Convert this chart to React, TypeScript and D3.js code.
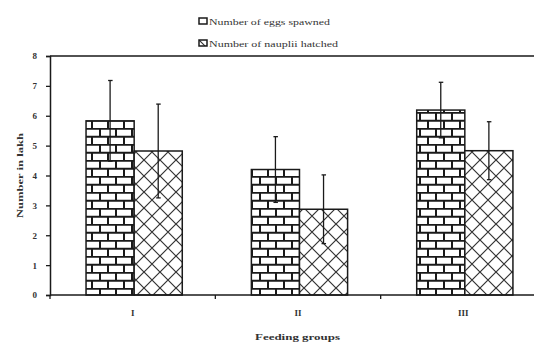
import React, { useRef, useEffect } from 'react';
import * as d3 from 'd3';

// data
const groups = ['I', 'II', 'III'];
const seriesNames = ['Number of eggs spawned', 'Number of nauplii hatched'];
const eggsSpawned = [5.83, 4.2, 6.19];
const eggsErr = [1.35, 1.1, 0.93];
const naupliiHatched = [4.82, 2.87, 4.83];
const naupliiErr = [1.57, 1.15, 0.97];
const yTicks = [0, 1, 2, 3, 4, 5, 6, 7, 8];

const App = () => {
    const svgRef = useRef<SVGSVGElement>(null);

    useEffect(() => {
        document.body.style.margin = '0';
        const svg = d3.select(svgRef.current);
        svg.selectAll('*').remove();

        const width = 534;
        const height = 344;
        const left = 50, right = 546, top = 56, bottom = 295;
        const font = '"Liberation Serif", "Times New Roman", serif';
        const ink = '#1a1a1a';

        svg.attr('width', width).attr('height', height);

        // patterns
        const defs = svg.append('defs');
        const brick = defs.append('pattern')
            .attr('id', 'brick')
            .attr('patternUnits', 'userSpaceOnUse')
            .attr('width', 16).attr('height', 16);
        brick.append('rect').attr('width', 16).attr('height', 16).attr('fill', '#fff');
        brick.append('path')
            .attr('d', 'M0,0.75H16M0,8.75H16M4,0V8M12,8V16')
            .attr('stroke', ink).attr('stroke-width', 2).attr('fill', 'none');

        const cross = defs.append('pattern')
            .attr('id', 'cross')
            .attr('patternUnits', 'userSpaceOnUse')
            .attr('width', 16).attr('height', 16);
        cross.append('rect').attr('width', 16).attr('height', 16).attr('fill', '#fff');
        cross.append('path')
            .attr('d', 'M0,0L16,16M16,0L0,16')
            .attr('stroke', '#333').attr('stroke-width', 1.2).attr('fill', 'none');

        const fills = ['url(#brick)', 'url(#cross)'];

        // scales
        const x = d3.scaleBand().domain(groups).range([left, right]);
        const bw = x.bandwidth();
        const xInner = d3.scaleBand().domain(seriesNames).range([bw * 0.218, bw * 0.8]);
        const y = d3.scaleLinear().domain([0, 8]).range([bottom, top]);

        const rows = groups.map((g, i) => ({
            group: g,
            values: [
                { name: seriesNames[0], v: eggsSpawned[i], e: eggsErr[i] },
                { name: seriesNames[1], v: naupliiHatched[i], e: naupliiErr[i] },
            ],
        }));

        // plot frame (top and right)
        svg.append('path')
            .attr('d', `M${left},${top}H${right}V${bottom}`)
            .attr('stroke', ink).attr('stroke-width', 1.5).attr('fill', 'none');

        // bars
        const g = svg.append('g');
        rows.forEach(r => {
            r.values.forEach((d, k) => {
                const bx = (x(r.group) as number) + (xInner(d.name) as number);
                g.append('rect')
                    .attr('x', bx).attr('y', y(d.v))
                    .attr('width', xInner.bandwidth()).attr('height', bottom - y(d.v))
                    .attr('fill', fills[k])
                    .attr('stroke', ink).attr('stroke-width', 1.5);
            });
        });

        // error bars
        rows.forEach(r => {
            r.values.forEach(d => {
                const cx = (x(r.group) as number) + (xInner(d.name) as number) + xInner.bandwidth() / 2;
                g.append('line')
                    .attr('x1', cx).attr('x2', cx)
                    .attr('y1', y(d.v + d.e)).attr('y2', y(d.v - d.e))
                    .attr('stroke', ink).attr('stroke-width', 1.3);
                [d.v + d.e, d.v - d.e].forEach(val => {
                    g.append('line')
                        .attr('x1', cx - 2).attr('x2', cx + 2.5)
                        .attr('y1', y(val)).attr('y2', y(val))
                        .attr('stroke', ink).attr('stroke-width', 1.3);
                });
            });
        });

        // y axis
        svg.append('g')
            .attr('transform', `translate(${left},0)`)
            .call(d3.axisLeft(y).tickValues(yTicks).tickSize(4).tickPadding(9).tickFormat(d3.format('d')))
            .call(a => a.select('.domain').attr('stroke', ink).attr('stroke-width', 1.5))
            .call(a => a.selectAll('.tick line').attr('stroke', ink).attr('stroke-width', 1.3))
            .call(a => a.selectAll('.tick text')
                .attr('fill', '#333').style('font-family', font).style('font-size', '9px').style('font-weight', 'bold'));

        // x axis line and boundary ticks
        svg.append('line')
            .attr('x1', left).attr('x2', right).attr('y1', bottom).attr('y2', bottom)
            .attr('stroke', ink).attr('stroke-width', 1.5);
        [...groups.map(gr => x(gr) as number), right].forEach(tx => {
            svg.append('line')
                .attr('x1', tx).attr('x2', tx).attr('y1', bottom).attr('y2', bottom + 4)
                .attr('stroke', ink).attr('stroke-width', 1.3);
        });
        groups.forEach(gr => {
            svg.append('text')
                .attr('x', (x(gr) as number) + bw / 2).attr('y', 316)
                .attr('text-anchor', 'middle')
                .attr('fill', '#333').style('font-family', font).style('font-size', '9px').style('font-weight', 'bold')
                .text(gr);
        });

        // axis titles
        svg.append('text')
            .attr('x', 255).attr('y', 340)
            .attr('textLength', 85).attr('lengthAdjust', 'spacingAndGlyphs')
            .attr('fill', '#333').style('font-family', font).style('font-size', '9px').style('font-weight', 'bold')
            .text('Feeding groups');
        svg.append('text')
            .attr('transform', `translate(23,218) rotate(-90)`)
            .attr('textLength', 85).attr('lengthAdjust', 'spacingAndGlyphs')
            .attr('fill', '#333').style('font-family', font).style('font-size', '9px').style('font-weight', 'bold')
            .text('Number in lakh');

        // legend
        const legendWidths = [121, 129];
        const legend = svg.append('g').attr('transform', 'translate(199,18)');
        seriesNames.forEach((s, k) => {
            const row = legend.append('g').attr('transform', `translate(0,${k * 22})`);
            row.append('rect')
                .attr('x', 0).attr('y', 0).attr('width', 8).attr('height', 6)
                .attr('fill', k === 0 ? '#fff' : fills[1])
                .attr('stroke', ink).attr('stroke-width', 1.5);
            row.append('text')
                .attr('x', 10).attr('y', 7)
                .attr('textLength', legendWidths[k]).attr('lengthAdjust', 'spacingAndGlyphs')
                .attr('fill', '#333').style('font-family', font).style('font-size', '9px')
                .text(s);
        });
    }, []);

    return (
        <div style={{ width: 534, height: 344, overflow: 'hidden' }}>
            <svg ref={svgRef} style={{ display: 'block' }}></svg>
        </div>
    );
};

export default App;
